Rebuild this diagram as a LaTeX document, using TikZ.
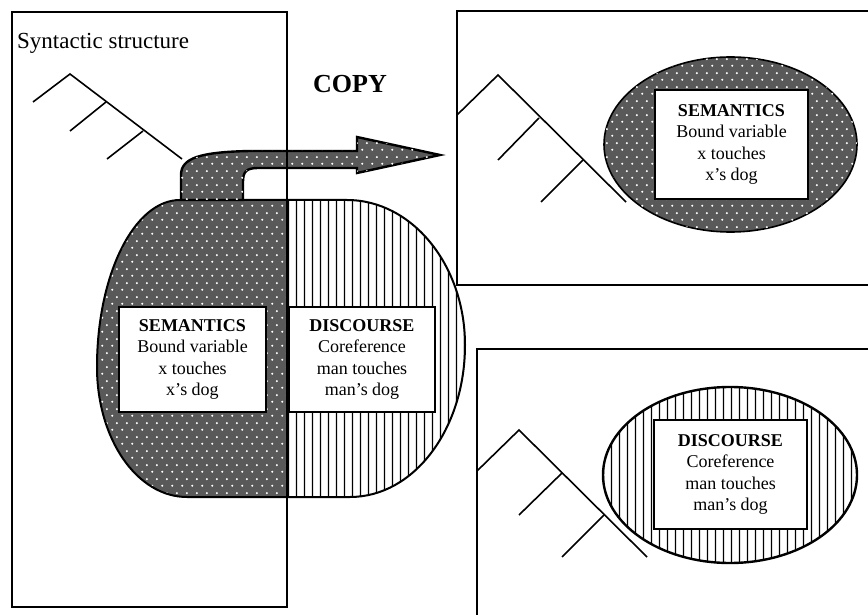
\documentclass[tikz,border=0pt]{standalone}
\usepackage{fontspec}
\setmainfont{Liberation Serif}
\usetikzlibrary{patterns.meta}

\tikzdeclarepattern{
  name=whitedots, type=uncolored,
  bounding box={(0pt,0pt) and (10pt,14pt)},
  tile size={(10pt,14pt)},
  code={
    \fill (2.5pt,3.5pt) circle (1.2pt);
    \fill (7.5pt,10.5pt) circle (1.2pt);
  }
}
\tikzdeclarepattern{
  name=vstripes, type=uncolored,
  bounding box={(0pt,0pt) and (7.5pt,700pt)},
  tile size={(7.5pt,700pt)},
  code={
    \fill (3pt,-1pt) rectangle (4.5pt,701pt);
  }
}

\newcommand{\blobpath}{(180,200) -- (347,200)
  .. controls (412,200) and (465,265) .. (465,345)
  .. controls (465,429) and (414,497) .. (350,497) -- (187,497)
  .. controls (137,497) and (97,439) .. (97,367)
  .. controls (97,275) and (134,200) .. (180,200) -- cycle}

\begin{document}
\begin{tikzpicture}[x=1pt, y=-1pt,
    boxline/.style={line width=2.4pt},
    thinline/.style={line width=1.6pt},
    treeline/.style={line width=1.6pt},
    dotfill/.style={fill=black!65, postaction={pattern=whitedots, pattern color=white}},
    stripefill/.style={fill=white, postaction={pattern=vstripes, pattern color=black}},
    infobox/.style={draw, line width=1.2pt, fill=white, align=center, inner sep=0pt,
      font=\fontsize{18}{21.5}\selectfont}]
  \useasboundingbox (0,0) rectangle (868,615);

  %blob, two halves
  \begin{scope}
    \clip (0,0) rectangle (287,615);
    \fill[dotfill] \blobpath;
  \end{scope}
  \begin{scope}
    \clip (287,0) rectangle (868,615);
    \fill[stripefill] \blobpath;
  \end{scope}
  \draw[line width=2pt] \blobpath;

  %copy arrow
  \draw[boxline, dotfill] (181,200) -- (181,175) .. controls (181,158) and (200,152) .. (250,151)
    -- (357,151) -- (357,137) -- (440,155) -- (357,173) -- (357,168) -- (258,168)
    .. controls (246,168) and (243,172) .. (243,182) -- (243,200) -- cycle;

  \node[infobox, minimum width=147pt, minimum height=105pt] (semblob) at (192.5,359.5)
    {\textbf{SEMANTICS}\\Bound variable\\x touches\\x's dog};
  \node[infobox, minimum width=146pt, minimum height=105pt] (discblob) at (362,359.5)
    {\textbf{DISCOURSE}\\Coreference\\man touches\\man's dog};

  %syntactic structure
  \draw[boxline] (12,12) rectangle (287,607);
  \node[anchor=base west, inner sep=0pt, font=\fontsize{23}{27}\selectfont] (syntitle) at (17,49)
    {Syntactic structure};
  \draw[treeline] (33,102) -- (70,74) -- (182,159);
  \draw[treeline] (106,102) -- (70,131);
  \draw[treeline] (143,131) -- (107,159);

  \node[anchor=base, inner sep=0pt, font=\fontsize{26}{30}\selectfont\bfseries] (copylabel) at (350,93) {COPY};

  %copied semantics
  \draw[boxline] (868,11) -- (457,11) -- (457,285) -- (868,285);
  \draw[treeline] (457,115) -- (498,75) -- (626,202);
  \draw[treeline] (539,118) -- (498,160);
  \draw[treeline] (583,160) -- (541,202);
  \draw[thinline, dotfill] (730.5,144.5) ellipse [x radius=126.5pt, y radius=87.5pt];
  \node[infobox, minimum width=153pt, minimum height=109pt] (semcopy) at (731.5,144.5)
    {\textbf{SEMANTICS}\\Bound variable\\x touches\\x's dog};

  %copied discourse
  \draw[thinline] (868,349) -- (477,349) -- (477,615);
  \draw[treeline] (477,471) -- (519,430) -- (647,557);
  \draw[treeline] (562,473) -- (519,515);
  \draw[treeline] (604,515) -- (562,557);
  \draw[boxline, stripefill] (730,475) ellipse [x radius=127pt, y radius=88pt];
  \node[infobox, minimum width=153pt, minimum height=109pt] (disccopy) at (730.5,474.5)
    {\textbf{DISCOURSE}\\Coreference\\man touches\\man's dog};
\end{tikzpicture}
\end{document}
